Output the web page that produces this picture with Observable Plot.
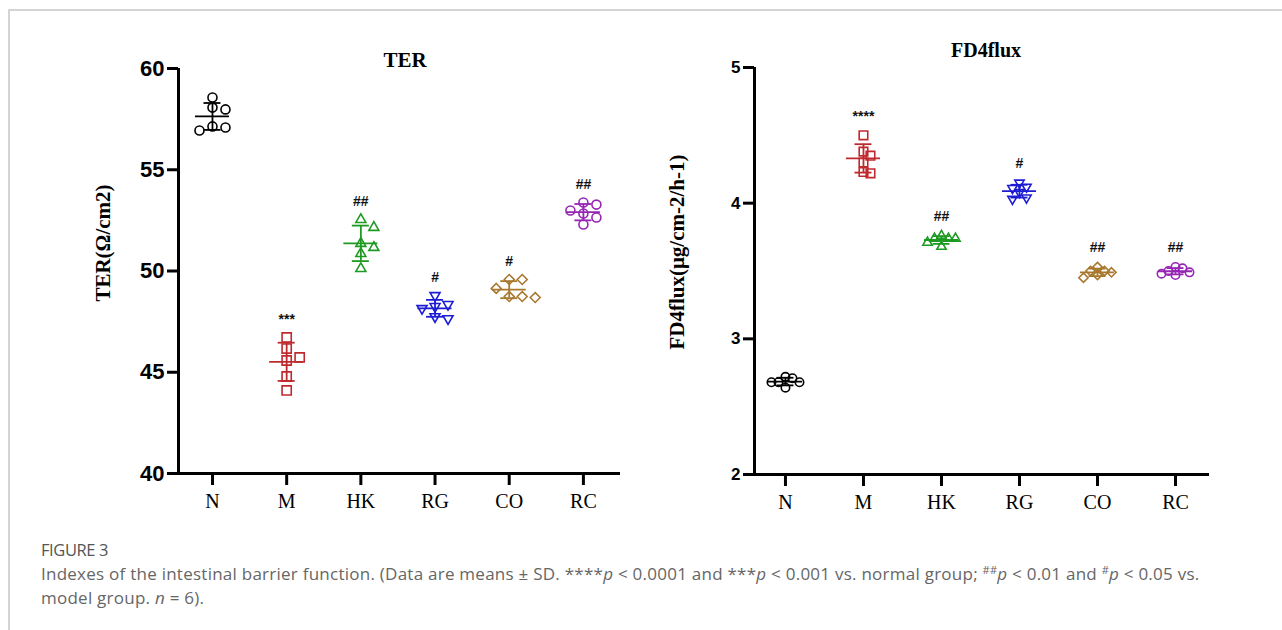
<!DOCTYPE html>
<html>
<head>
<meta charset="utf-8">
<script src="https://cdn.jsdelivr.net/npm/d3@7"></script>
<script src="https://cdn.jsdelivr.net/npm/@observablehq/plot@0.6"></script>
<style>
  body { margin: 0; background: #fff; width: 1282px; height: 630px; overflow: hidden; position: relative; font-family: "Liberation Sans", Arial, sans-serif; }
  #card { position: absolute; left: 8px; top: 9px; width: 1400px; height: 800px; border-top: 2px solid #d4d4d4; border-left: 2px solid #d4d4d4; }
  #left { position: absolute; left: 0; top: 0; }
  #right { position: absolute; left: 640px; top: 0; }
  .title { position: absolute; font-family: "Liberation Serif", "Times New Roman", serif; font-weight: bold; transform: translate(-50%, -50%); white-space: nowrap; color: #000; }
  .ylab { position: absolute; font-family: "Liberation Serif", "Times New Roman", serif; font-weight: bold; transform: translate(-50%, -50%) rotate(-90deg); white-space: nowrap; color: #000; }
  #fig { position: absolute; left: 41px; top: 538px; font-family: "Open Sans", sans-serif; font-size: 16.5px; color: #555; letter-spacing: -0.4px; }
  #cap { position: absolute; left: 41px; top: 562px; font-family: "Open Sans", sans-serif; font-size: 17px; line-height: 24px; color: #666; white-space: nowrap; letter-spacing: 0.25px; }
  #cap sup { font-size: 11px; vertical-align: 6px; line-height: 0; }
  svg g[aria-label^="y-axis"] path, svg g[aria-label^="y-axis"] line,
  svg g[aria-label^="x-axis"] path, svg g[aria-label^="x-axis"] line { stroke-width: 3px; stroke: #000; }
  svg g[aria-label^="y-axis"] text { font-family: "Liberation Sans", Arial, sans-serif; font-weight: bold; fill: #000; }
  #left svg g[aria-label^="y-axis"] text { font-size: 22px; }
  #right svg g[aria-label^="y-axis"] text { font-size: 17px; }
  svg g[aria-label^="x-axis"] text { font-family: "Liberation Serif", "Times New Roman", serif; font-size: 20px; fill: #000; }
</style>
</head>
<body>
<div id="card"></div>
<div id="left"></div>
<div id="right"></div>
<div class="title" style="left:405px; top:60px; font-size:21px;">TER</div>
<div class="title" style="left:986px; top:50px; font-size:20px;">FD4flux</div>
<div class="ylab" style="left:103px; top:243px; font-size:21px;">TER(Ω/cm2)</div>
<div class="ylab" style="left:677px; top:252px; font-size:21px;">FD4flux(μg/cm-2/h-1)</div>
<div id="fig">FIGURE 3</div>
<div id="cap">Indexes of the intestinal barrier function. (Data are means ± SD. ****<i>p</i> &lt; 0.0001 and ***<i>p</i> &lt; 0.001 vs. normal group; <sup>##</sup><i>p</i> &lt; 0.01 and <sup>#</sup><i>p</i> &lt; 0.05 vs.<br>model group. <i>n</i> = 6).</div>
<script>
// ---------- data ----------
const groups = ["N", "M", "HK", "RG", "CO", "RC"];
const groupColors = ["#000000", "#be2a2e", "#1e9a22", "#1c1cd4", "#a8782e", "#9526b4"];

// TER (Ω/cm2), six animals per group
const terN  = [58.57, 58.07, 57.98, 57.14, 57.09, 56.94];
const terM  = [46.72, 46.17, 45.73, 45.58, 44.79, 44.10];
const terHK = [52.54, 52.15, 51.36, 51.16, 50.86, 50.12];
const terRG = [48.79, 48.35, 48.25, 48.15, 47.75, 47.65];
const terCO = [49.58, 49.58, 49.14, 48.74, 48.74, 48.69];
const terRC = [53.38, 53.28, 52.99, 52.84, 52.64, 52.30];
const terSig = ["", "***", "##", "#", "#", "##"];
const terTicks = [40, 45, 50, 55, 60];

// FD4 flux (μg/cm-2/h-1)
const fdN  = [2.72, 2.71, 2.68, 2.68, 2.68, 2.64];
const fdM  = [4.50, 4.38, 4.35, 4.30, 4.23, 4.22];
const fdHK = [3.76, 3.74, 3.74, 3.74, 3.71, 3.68];
const fdRG = [4.15, 4.12, 4.11, 4.08, 4.04, 4.03];
const fdCO = [3.53, 3.50, 3.50, 3.49, 3.47, 3.45];
const fdRC = [3.53, 3.52, 3.50, 3.49, 3.48, 3.47];
const fdSig = ["", "****", "##", "#", "##", "##"];
const fdTicks = [2, 3, 4, 5];

// ---------- marker shapes ----------
function rOf(size) { return Math.sqrt(size / Math.PI); }
const symCircle = { draw(c, size) { const r = rOf(size); c.moveTo(r, 0); c.arc(0, 0, r, 0, 2 * Math.PI); } };
const symSquare = { draw(c, size) { const r = rOf(size) * 1.02; c.moveTo(-r, -r); c.lineTo(r, -r); c.lineTo(r, r); c.lineTo(-r, r); c.closePath(); } };
const symTri = { draw(c, size) { const h = rOf(size) * 0.64, w = Math.sqrt(3) * h; c.moveTo(0, -2 * h); c.lineTo(w, h); c.lineTo(-w, h); c.closePath(); } };
const symTriDown = { draw(c, size) { const h = rOf(size) * 0.64, w = Math.sqrt(3) * h; c.moveTo(0, 2 * h); c.lineTo(w, -h); c.lineTo(-w, -h); c.closePath(); } };
const symDiamond = { draw(c, size) { const r = rOf(size) * 1.1; c.moveTo(0, -r); c.lineTo(r, 0); c.lineTo(0, r); c.lineTo(-r, 0); c.closePath(); } };
const groupSymbols = [symCircle, symSquare, symTri, symTriDown, symDiamond, symCircle];

// simple beeswarm in pixel space, top value first
function swarm(values, yPix, step, minDist) {
  const order = d3.range(values.length).sort((a, b) => values[b] - values[a]);
  const placed = [], off = new Array(values.length);
  for (const k of order) {
    const py = yPix(values[k]);
    for (let j = 0; j < 40; j++) {
      const o = j === 0 ? 0 : (j % 2 ? 1 : -1) * Math.ceil(j / 2) * step;
      if (placed.every(p => Math.hypot(p.o - o, p.py - py) >= minDist)) { off[k] = o; placed.push({o, py}); break; }
    }
  }
  return off;
}

function panel(el, cfg) {
  const stats = groups.map((g, i) => {
    const v = cfg.values[i], m = d3.mean(v), s = d3.deviation(v);
    return {g, i, mean: m, lo: m - s, hi: m + s, top: d3.max(v), sig: cfg.sig[i]};
  });
  const base = {
    width: cfg.width, height: cfg.height,
    marginLeft: cfg.ml, marginRight: cfg.mr, marginTop: cfg.mt, marginBottom: cfg.mb,
    x: {domain: cfg.xDomain, ticks: d3.range(groups.length), tickFormat: i => groups[i], tickSize: 12, tickPadding: 8, label: null},
    y: {domain: cfg.yDomain, ticks: cfg.yTicks, tickSize: 11, tickPadding: 3, label: null, tickFormat: d => String(d)},
    color: {domain: groups, range: groupColors},
    symbol: {domain: groups, range: groupSymbols},
    style: {background: "transparent", overflow: "visible", fontFamily: "Liberation Sans, Arial, sans-serif"}
  };
  const probe = Plot.plot({...base, marks: [Plot.ruleX(stats, {x: "i", y1: "lo", y2: "hi"})]});
  const xs = probe.scale("x"), ys = probe.scale("y");
  const lin = (sc) => sc.apply ? (v => sc.apply(v)) : (v => sc.range[0] + (v - sc.domain[0]) / (sc.domain[1] - sc.domain[0]) * (sc.range[1] - sc.range[0]));
  const xp = lin(xs), yp = lin(ys);
  const ppu = xp(1) - xp(0);
  const pts = [];
  groups.forEach((g, i) => {
    const off = swarm(cfg.values[i], yp, cfg.step, cfg.minDist);
    cfg.values[i].forEach((v, k) => pts.push({g, x: i + off[k] / ppu, v}));
  });
  const plot = Plot.plot({
    ...base,
    marks: [
      Plot.ruleY([cfg.yDomain[0]], {strokeWidth: 3}),
      Plot.ruleX([cfg.xDomain[0]], {strokeWidth: 3}),
      Plot.ruleX(stats, {x: "i", y1: "lo", y2: "hi", stroke: "g", strokeWidth: 1.8}),
      Plot.ruleY(stats, {x1: "i", x2: "i", y: "lo", stroke: "g", strokeWidth: 1.8, insetLeft: -cfg.cap, insetRight: -cfg.cap}),
      Plot.ruleY(stats, {x1: "i", x2: "i", y: "hi", stroke: "g", strokeWidth: 1.8, insetLeft: -cfg.cap, insetRight: -cfg.cap}),
      Plot.ruleY(stats, {x1: "i", x2: "i", y: "mean", stroke: "g", strokeWidth: 1.8, insetLeft: -cfg.meanW, insetRight: -cfg.meanW}),
      Plot.dot(pts, {x: "x", y: "v", stroke: "g", symbol: "g", r: cfg.r, strokeWidth: 1.6, fill: "none"}),
      Plot.text(stats, {x: "i", y: "top", text: "sig", dy: cfg.sigDy, fontSize: 14, fontWeight: "bold", fill: "#111"})
    ]
  });
  document.getElementById(el).appendChild(plot);
}

panel("left", {
  values: [terN, terM, terHK, terRG, terCO, terRC], sig: terSig,
  yDomain: [40, 60], yTicks: terTicks, xDomain: [-0.458, 5.5],
  width: 640, height: 530, ml: 178, mr: 20, mt: 68, mb: 57,
  step: 13, minDist: 10, r: 4.5, cap: 8.5, meanW: 17, sigDy: -18
});
panel("right", {
  values: [fdN, fdM, fdHK, fdRG, fdCO, fdRC], sig: fdSig,
  yDomain: [2, 5], yTicks: fdTicks, xDomain: [-0.397, 5.436],
  width: 642, height: 530, ml: 114, mr: 73, mt: 67, mb: 56,
  step: 7, minDist: 7, r: 4.2, cap: 8.5, meanW: 17, sigDy: -19
});
</script>
</body>
</html>
